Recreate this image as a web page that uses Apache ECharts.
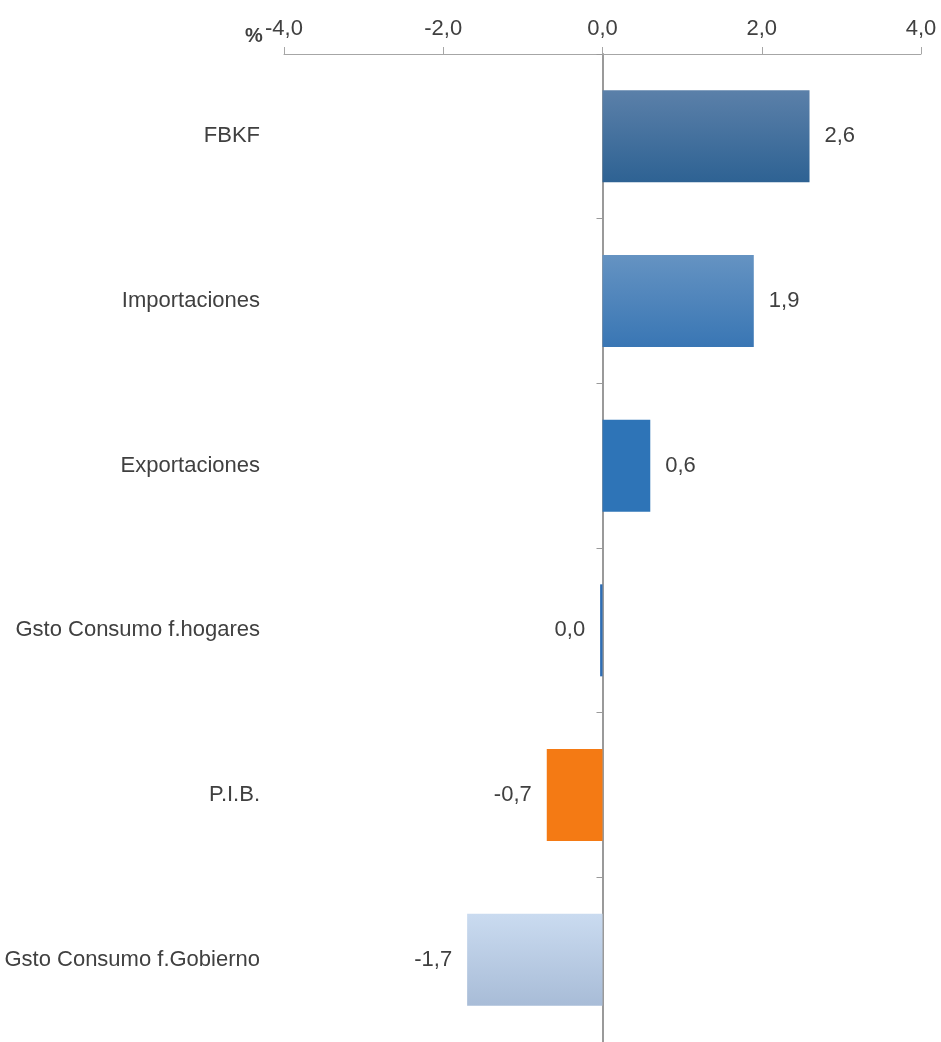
<!DOCTYPE html>
<html>
<head>
<meta charset="utf-8">
<script src="https://cdn.jsdelivr.net/npm/echarts@6/dist/echarts.min.js"></script>
<style>
  html, body { margin: 0; padding: 0; background: #fff; }
  #chart { width: 941px; height: 1042px; }
</style>
</head>
<body>
<div id="chart"></div>
<script>
// datos
var categories = ['FBKF', 'Importaciones', 'Exportaciones', 'Gsto Consumo f.hogares', 'P.I.B.', 'Gsto Consumo f.Gobierno']
var values = [2.6, 1.9, 0.6, -0.03, -0.7, -1.7]
var xTicks = [-4, -2, 0, 2, 4]

var FONT = '"Liberation Sans Narrow", "Arial Narrow", "Liberation Sans", sans-serif'

function grad(top, bottom) {
  return new echarts.graphic.LinearGradient(0, 0, 0, 1, [
    { offset: 0, color: top },
    { offset: 1, color: bottom }
  ])
}
var barColors = [
  grad('#5b80a9', '#2e6293'),
  grad('#6593c2', '#3976b4'),
  '#2e74b7',
  '#2e6db4',
  '#f47a14',
  grad('#cadbf0', '#a8bcd7')
]

function fmt(v) {
  if (Math.abs(v) < 0.05) return '0,0'
  return v.toFixed(1).replace('.', ',')
}

var myChart = echarts.init(document.getElementById('chart'))
myChart.setOption({
  animation: false,
  title: {
    text: '%',
    left: 240,
    top: 21,
    textStyle: { fontFamily: FONT, fontSize: 20, fontWeight: 'bold', color: '#404040' }
  },
  grid: { left: 284, right: 20, top: 54, bottom: -5 },
  xAxis: {
    type: 'value',
    position: 'top',
    min: xTicks[0],
    max: xTicks[xTicks.length - 1],
    interval: 2,
    splitLine: { show: false },
    axisLine: { show: true, onZero: false, lineStyle: { color: '#a6a6a6', width: 1 } },
    axisTick: { show: true, inside: false, length: 7, lineStyle: { color: '#a6a6a6' } },
    axisLabel: {
      margin: 14,
      fontFamily: FONT,
      fontSize: 22,
      color: '#404040',
      formatter: function (v) { return v.toFixed(1).replace('.', ',') }
    }
  },
  yAxis: [
    {
      type: 'category',
      inverse: true,
      data: categories,
      position: 'left',
      axisLine: { show: false, onZero: false },
      axisTick: { show: false },
      axisLabel: { margin: 24, fontFamily: FONT, fontSize: 22, color: '#404040' }
    },
    {
      type: 'category',
      inverse: true,
      data: categories,
      position: 'left',
      axisLine: { show: true, onZero: true, lineStyle: { color: '#9a9a9a', width: 2 } },
      axisTick: { show: true, length: 6, lineStyle: { color: '#9a9a9a' } },
      axisLabel: { show: false }
    }
  ],
  series: [
    {
      type: 'bar',
      yAxisIndex: 0,
      barWidth: 92,
      data: values.map(function (v, i) {
        return {
          value: v,
          itemStyle: { color: barColors[i] },
          label: { position: v < 0 ? 'left' : 'right' }
        }
      }),
      label: {
        show: true,
        distance: 15,
        fontFamily: FONT,
        fontSize: 22,
        color: '#404040',
        formatter: function (p) { return fmt(p.value) }
      }
    }
  ]
})
</script>
</body>
</html>
